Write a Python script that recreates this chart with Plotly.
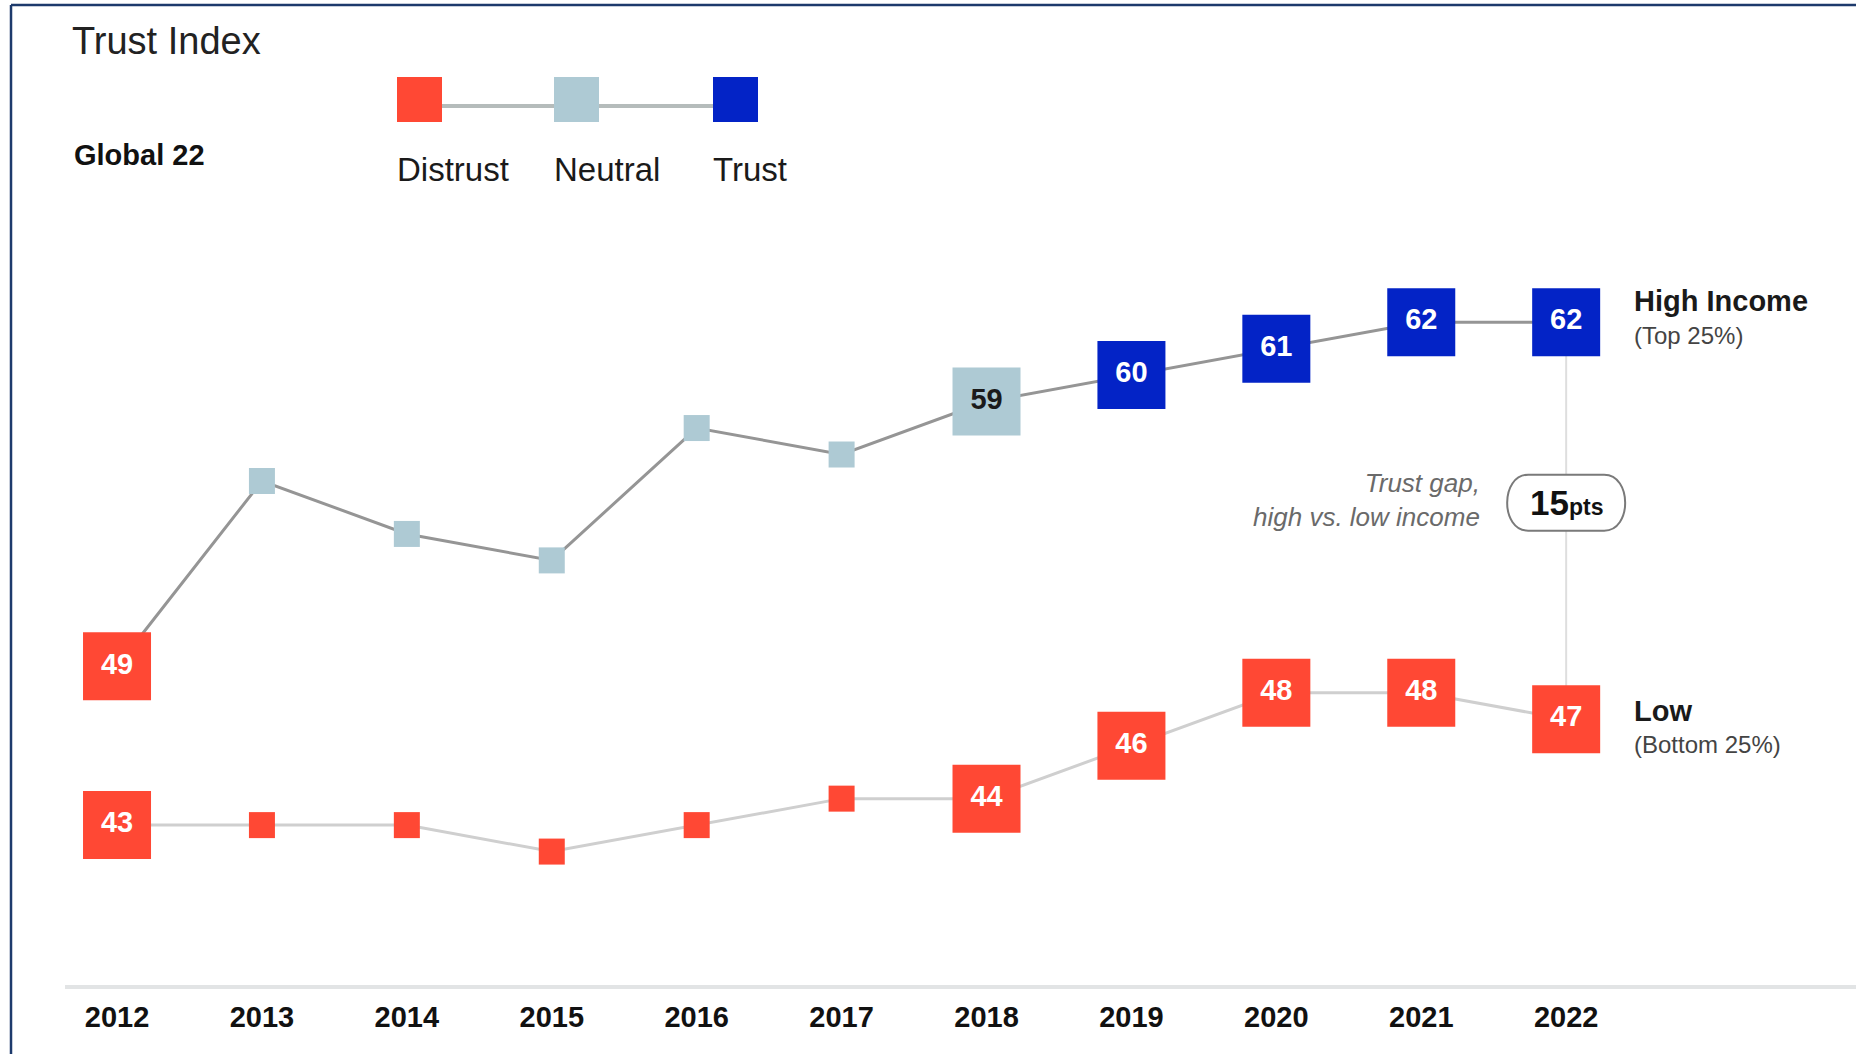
import plotly.graph_objects as go

# data
years = [2012, 2013, 2014, 2015, 2016, 2017, 2018, 2019, 2020, 2021, 2022]
high_income = [49, 56, 54, 53, 58, 57, 59, 60, 61, 62, 62]
low_income = [43, 43, 43, 42, 43, 44, 44, 46, 48, 48, 47]
labelled_years = [2012, 2018, 2019, 2020, 2021, 2022]

legend_names = ["Distrust", "Neutral", "Trust"]
legend_colors = ["#ff4834", "#aecad4", "#0323c6"]

W, H = 1856, 1054
L, R, T, B = 65, 0, 0, 69
PW, PH = W - L - R, H - T - B


def fx(px):
    return (px - L) / PW


def fy(py):
    return (H - B - py) / PH


def band(v):
    if v < 50:
        return 0
    if v < 60:
        return 1
    return 2


def series(name, values, linecolor):
    big = [y in labelled_years for y in years]
    colors = [legend_colors[band(v)] for v in values]
    sizes = [68 if b else 26 for b in big]
    texts = ["<b>%d</b>" % v if b else "" for v, b in zip(values, big)]
    tcols = ["#1a1a1a" if band(v) == 1 else "white" for v in values]
    return go.Scatter(
        x=years, y=values, name=name, mode="lines+markers+text",
        line=dict(color=linecolor, width=3),
        marker=dict(symbol="square", size=sizes, color=colors, opacity=1, line=dict(width=0)),
        text=texts, textposition="middle center",
        textfont=dict(family="Liberation Sans", size=29, color=tcols),
        cliponaxis=False, showlegend=False, hoverinfo="skip",
    )


fig = go.Figure()
fig.add_trace(series("Low (Bottom 25%)", low_income, "#cfcfcf"))
fig.add_trace(series("High Income (Top 25%)", high_income, "#959595"))

# gap connector between the last points
last = years[-1]
mid = (high_income[-1] + low_income[-1]) / 2
fig.add_shape(type="line", x0=last, x1=last, y0=low_income[-1], y1=high_income[-1],
              line=dict(color="#dedede", width=2), layer="below")
pill = ("M -38,-28 L 38,-28 C 66,-28 66,28 38,28 "
        "L -38,28 C -66,28 -66,-28 -38,-28 Z")
fig.add_shape(type="path", path=pill, xref="x", yref="y", xsizemode="pixel", ysizemode="pixel",
              xanchor=last, yanchor=mid + 0.68,
              line=dict(color="#7a7a7a", width=2), fillcolor="white")
gap = high_income[-1] - low_income[-1]
fig.add_annotation(x=last, y=mid + 0.68, xref="x", yref="y", showarrow=False,
                   text="<b>%d<span style='font-size:23px'>pts</span></b>" % gap,
                   font=dict(family="Liberation Sans", size=35, color="#111"))
fig.add_annotation(x=fx(1482), y=fy(500), xref="paper", yref="paper", showarrow=False,
                   xanchor="right", yanchor="middle", align="right",
                   text="<i>Trust gap,<br>high vs. low income</i>",
                   font=dict(family="Liberation Sans", size=26, color="#6a6a6a"))

# right-hand series labels
for top, sub, py in [("High Income", "(Top 25%)", 301), ("Low", "(Bottom 25%)", 711)]:
    fig.add_annotation(x=fx(1632), y=fy(py), xref="paper", yref="paper", showarrow=False,
                       xanchor="left", yanchor="middle", text="<b>%s</b>" % top,
                       font=dict(family="Liberation Sans", size=29, color="#1a1a1a"))
    fig.add_annotation(x=fx(1632), y=fy(py + 34), xref="paper", yref="paper", showarrow=False,
                       xanchor="left", yanchor="middle", text=sub,
                       font=dict(family="Liberation Sans", size=24, color="#444"))

# title block
fig.add_annotation(x=fx(70), y=fy(41), xref="paper", yref="paper", showarrow=False,
                   xanchor="left", yanchor="middle", text="Trust Index",
                   font=dict(family="Liberation Sans", size=38, color="#222"))
fig.add_annotation(x=fx(72), y=fy(155), xref="paper", yref="paper", showarrow=False,
                   xanchor="left", yanchor="middle", text="<b>Global 22</b>",
                   font=dict(family="Liberation Sans", size=29, color="#111"))

# custom legend: squares joined by a line
lx = [397, 554, 713]
fig.add_shape(type="line", xref="paper", yref="paper", x0=fx(lx[0] + 20), x1=fx(lx[2] + 20),
              y0=fy(106), y1=fy(106), line=dict(color="#b5bcbb", width=4))
for x0, name, col in zip(lx, legend_names, legend_colors):
    fig.add_shape(type="rect", xref="paper", yref="paper", x0=fx(x0), x1=fx(x0 + 45),
                  y0=fy(122), y1=fy(77), fillcolor=col, line=dict(width=0))
    fig.add_annotation(x=fx(x0 - 2), y=fy(170), xref="paper", yref="paper", showarrow=False,
                       xanchor="left", yanchor="middle", text=name,
                       font=dict(family="Liberation Sans", size=33, color="#1a1a1a"))

# frame lines (top and left)
fig.add_shape(type="line", xref="paper", yref="paper", x0=fx(11), x1=fx(W), y0=fy(5), y1=fy(5),
              line=dict(color="#1d3a6c", width=2.5))
fig.add_shape(type="line", xref="paper", yref="paper", x0=fx(11), x1=fx(11), y0=fy(5), y1=fy(H),
              line=dict(color="#1d3a6c", width=2.5))

fig.update_xaxes(range=[2011.641, 2024.0], tickvals=years, ticktext=["<b>%d</b>" % y for y in years],
                 showgrid=False, zeroline=False, showline=True, linecolor="#e2e4e5", linewidth=4,
                 ticks="", ticklabelstandoff=3,
                 tickfont=dict(family="Liberation Sans", size=29, color="#111"))
fig.update_yaxes(range=[36.96, 74.17], visible=False)
fig.update_layout(width=W, height=H, margin=dict(l=L, r=R, t=T, b=B),
                  plot_bgcolor="white", paper_bgcolor="white")

fig.write_html("out.html", config={"displayModeBar": False},
               post_script="document.body.style.margin='0';")
